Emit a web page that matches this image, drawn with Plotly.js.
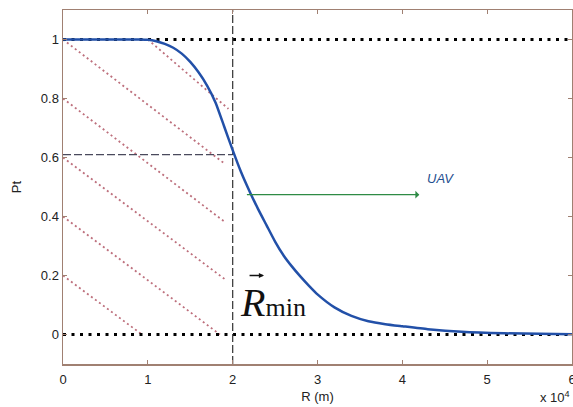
<!DOCTYPE html>
<html>
<head>
<meta charset="utf-8">
<script src="https://cdn.plot.ly/plotly-3.0.1.min.js"></script>
<style>
  html, body { margin: 0; padding: 0; background: #ffffff; }
  #chart { width: 573px; height: 407px; }
</style>
</head>
<body>
<div id="chart"></div>
<script>
// Range R (x 10^4 m) and probability Pt of the main curve
const rValues = [0, 0.9, 1.0, 1.1, 1.2, 1.3, 1.4, 1.5, 1.6, 1.7, 1.8, 1.9, 2.0, 2.1, 2.2, 2.3, 2.4, 2.5, 2.6, 2.7, 2.8, 2.9, 3.0, 3.2, 3.4, 3.6, 3.8, 4.0, 4.3, 4.7, 5.2, 6.0];
const ptValues = [1, 1, 0.999, 0.994, 0.985, 0.972, 0.952, 0.924, 0.888, 0.843, 0.785, 0.705, 0.625, 0.55, 0.485, 0.425, 0.37, 0.315, 0.268, 0.23, 0.196, 0.165, 0.136, 0.092, 0.063, 0.045, 0.035, 0.028, 0.018, 0.009, 0.004, 0.001];

// Reference levels
const rMin = 2;          // vertical dashed line (R_min)
const ptAtRMin = 0.61;   // horizontal dashed line
const levelTop = 1;      // dotted line at Pt = 1
const levelBottom = 0;   // dotted line at Pt = 0
const xSpan = [0, 6];

// Hatch (dotted diagonal) lines: start and end points
const hatchX0 = [0, 0, 0, 0, 0, 1.0];
const hatchY0 = [1, 0.8, 0.6, 0.4, 0.2, 1];
const hatchX1 = [1.91, 1.91, 1.91, 1.85, 0.93, 1.95];
const hatchY1 = [0.578, 0.381, 0.187, 0, 0, 0.765];

// UAV arrow
const uavArrowStart = [2.15, 0.474];
const uavArrowEnd = [4.2, 0.474];

// Tick labels
const xTickVals = [0, 1, 2, 3, 4, 5, 6];
const yTickVals = [0, 0.2, 0.4, 0.6, 0.8, 1];
const yTickText = ['0', '0.2', '0.4', '0.6', '0.8', '1'];

const traces = [];

// hatch lines
for (let i = 0; i < hatchX0.length; i++) {
  traces.push({
    x: [hatchX0[i], hatchX1[i]], y: [hatchY0[i], hatchY1[i]],
    mode: 'lines', type: 'scatter', hoverinfo: 'skip', showlegend: false,
    line: { color: '#bd6f7c', width: 1.8, dash: '2px,3px' }
  });
}

// dotted levels
[levelTop, levelBottom].forEach(v => {
  traces.push({
    x: xSpan, y: [v, v], mode: 'lines', type: 'scatter', showlegend: false, hoverinfo: 'skip',
    line: { color: '#000000', width: 3, dash: '3px,5.5px' }
  });
});

// horizontal dashed at Pt(Rmin)
traces.push({
  x: [0, rMin], y: [ptAtRMin, ptAtRMin], mode: 'lines', type: 'scatter', showlegend: false, hoverinfo: 'skip',
  line: { color: '#4a4a5c', width: 1.3, dash: '8px,3px' }
});

// vertical dashed at Rmin
traces.push({
  x: [rMin, rMin], y: [-0.1, 1.1], mode: 'lines', type: 'scatter', showlegend: false, hoverinfo: 'skip',
  line: { color: '#404040', width: 1.3, dash: '8px,3px' }
});

// main curve
traces.push({
  x: rValues, y: ptValues, mode: 'lines', type: 'scatter', showlegend: false,
  line: { color: '#2250a8', width: 2.5, shape: 'spline', smoothing: 0.5 }
});

const axisColor = '#a08072';
const tickFont = { family: 'Liberation Sans, Arial, sans-serif', size: 13, color: '#222222' };

const layout = {
  width: 573, height: 407,
  margin: { l: 63, r: 1, t: 10, b: 43 },
  paper_bgcolor: '#ffffff', plot_bgcolor: '#ffffff',
  showlegend: false,
  xaxis: {
    range: [0, 6], tickvals: xTickVals, ticktext: xTickVals.map(String),
    ticks: 'inside', ticklen: 4, tickcolor: axisColor, tickwidth: 1,
    showline: true, linecolor: axisColor, linewidth: 1.5, mirror: 'ticks',
    showgrid: false, zeroline: false, tickfont: tickFont, ticklabelstandoff: 3,
    ticklabeloverflow: 'allow',
    title: { text: 'R (m)', font: tickFont, standoff: 6 }
  },
  yaxis: {
    range: [-0.1, 1.1], tickvals: yTickVals, ticktext: yTickText,
    ticks: 'inside', ticklen: 4, tickcolor: axisColor, tickwidth: 1,
    showline: true, linecolor: axisColor, linewidth: 1.5, mirror: 'ticks',
    showgrid: false, zeroline: false, tickfont: tickFont,
    title: { text: 'Pt', font: tickFont, standoff: 16 }
  },
  annotations: [
    {
      x: uavArrowEnd[0], y: uavArrowEnd[1], ax: uavArrowStart[0], ay: uavArrowStart[1],
      xref: 'x', yref: 'y', axref: 'x', ayref: 'y', text: '', showarrow: true,
      arrowhead: 1, arrowsize: 1, arrowwidth: 1.3, arrowcolor: '#2e8b45'
    },
    {
      x: 4.27, y: 0.53, xref: 'x', yref: 'y', xanchor: 'left', yanchor: 'middle',
      text: '<i>UAV</i>', showarrow: false,
      font: { family: 'Liberation Sans, Arial, sans-serif', size: 13, color: '#1f4f8f' }
    },
    {
      x: 2.06, y: 0.11, xref: 'x', yref: 'y', xanchor: 'left', yanchor: 'middle',
      text: '<i>R</i><span style="font-size:26px">min</span>', showarrow: false,
      font: { family: 'Liberation Serif, Times New Roman, serif', size: 40, color: '#111111' }
    },
    {
      x: 2.37, y: 0.2, xref: 'x', yref: 'y', ax: -16, ay: 0, text: '', showarrow: true,
      arrowhead: 2, arrowsize: 0.8, arrowwidth: 1.3, arrowcolor: '#111111'
    },
    {
      x: 1, y: 0, xref: 'paper', yref: 'paper', xanchor: 'right', yanchor: 'bottom', yshift: -43,
      text: 'x 10<sup>4</sup>', showarrow: false, font: tickFont
    }
  ]
};

Plotly.newPlot('chart', traces, layout, { staticPlot: true, displayModeBar: false });
</script>
</body>
</html>
